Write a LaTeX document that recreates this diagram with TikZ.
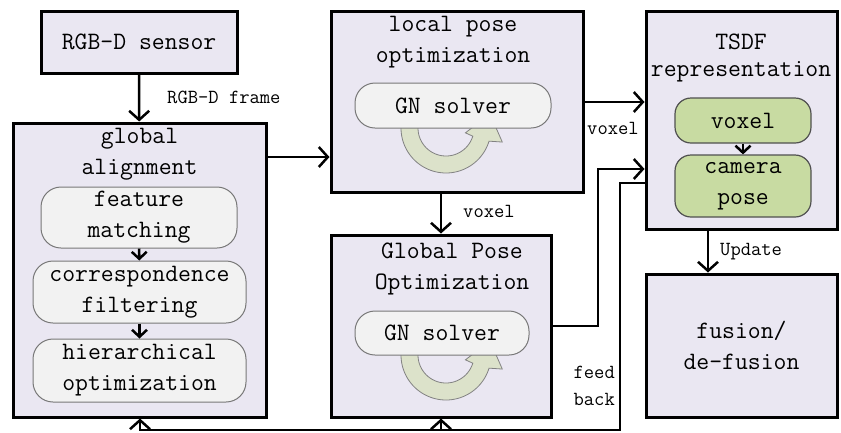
\documentclass[tikz,border=0pt]{standalone}
\usepackage{fontspec}
\usetikzlibrary{arrows.meta,shadows}

\definecolor{boxfill}{RGB}{234,231,242}
\definecolor{subfill}{RGB}{242,242,242}
\definecolor{subedge}{RGB}{120,120,120}
\definecolor{greenfill}{RGB}{200,219,162}
\definecolor{greenedge}{RGB}{80,80,80}
\definecolor{cycfill}{RGB}{220,226,202}
\definecolor{cycedge}{RGB}{130,130,130}

\tikzset{
  x=1pt, y=-1pt,
  mainfont/.style={font=\ttfamily\fontsize{25}{31}\selectfont},
  labelfont/.style={font=\ttfamily\fontsize{20}{27}\selectfont},
  block/.style={draw, line width=3pt, fill=boxfill, inner sep=0pt},
  subbox/.style={draw=subedge, line width=1pt, fill=subfill, rounded corners=20pt,
    mainfont, align=center, inner sep=0pt},
  greenbox/.style={draw=greenedge, line width=1.2pt, fill=greenfill, rounded corners=16pt,
    mainfont, align=center, inner sep=0pt},
  title/.style={mainfont, align=center, inner sep=0pt},
  lbl/.style={labelfont, inner sep=0pt},
  conn/.style={line width=2.5pt},
  arr/.style={conn, -{Straight Barb[length=9pt,width=20pt]}},
  subarr/.style={line width=2.5pt, -{Straight Barb[length=7pt,width=15pt]}},
  % clockwise loop arrow, its head tucked under the solver box
  pics/cyclearrow/.style={code={
    \filldraw[fill=cycfill, draw=cycedge, line width=0.8pt]
      plot[domain=186:17, samples=50] ({45*cos(\x)},{45*sin(\x)})
      -- ({58*cos(14)},{58*sin(14)})
      -- (44,-14)
      -- ({20*cos(14)},{20*sin(14)})
      -- ({28*cos(17)},{28*sin(17)})
      -- plot[domain=17:186, samples=50] ({28*cos(\x)},{28*sin(\x)})
      -- cycle;
  }}
}

\begin{document}
\begin{tikzpicture}
\useasboundingbox (0,0) rectangle (841,432);

% main blocks
\node[block, drop shadow={shadow xshift=2pt, shadow yshift=-2pt, opacity=0.35},
      minimum width=196pt, minimum height=62pt, mainfont] (sensor) at (139,42) {RGB-D sensor};
\node[block, minimum width=253pt, minimum height=294pt] (ga) at (139.5,270) {};
\node[block, minimum width=252pt, minimum height=181pt] (lp) at (457,101.5) {};
\node[block, minimum width=220pt, minimum height=182pt] (gp) at (441,326) {};
\node[block, minimum width=191pt, minimum height=218pt] (tsdf) at (741.5,120) {};
\node[block, minimum width=191pt, minimum height=143pt, mainfont, align=center] (fus) at (741.5,345.5) {fusion/\\de-fusion};

% block titles
\node[title] (gatitle) at (139.5,154) {global\\alignment};
\node[title] (lptitle) at (453,42) {local pose\\optimization};
\node[title] (gptitle) at (452,269) {Global Pose\\Optimization};
\node[title, font=\ttfamily\fontsize{25}{27}\selectfont] (tsdftitle) at (741,58) {TSDF\\representation};

% solver loops (drawn under the solver boxes)
\pic at (446,128) {cyclearrow};
\pic at (446,355) {cyclearrow};

% inner steps
\node[subbox, minimum width=196pt, minimum height=61pt] (fm) at (139,217.5) {feature\\matching};
\node[subbox, minimum width=213pt, minimum height=62pt] (cf) at (139.5,292) {correspondence\\filtering};
\node[subbox, minimum width=213pt, minimum height=63pt] (ho) at (139.5,370.5) {hierarchical\\optimization};
\node[subbox, minimum width=196pt, minimum height=45pt] (lsolv) at (453,105.5) {GN solver};
\node[subbox, minimum width=174pt, minimum height=44pt] (gsolv) at (442,333) {GN solver};
\node[greenbox, minimum width=136pt, minimum height=45pt] (vox) at (743,120.5) {voxel};
\node[greenbox, minimum width=136pt, minimum height=62pt] (cam) at (743,186) {camera\\pose};

% inner arrows
\draw[subarr] (fm) -- (cf);
\draw[subarr] (cf) -- (ho);
\draw[subarr] (vox) -- (cam);

% connectors
\coordinate (gpout) at (598,326);
\coordinate (fbtop) at (620,183);
\coordinate (fbcorner) at (620,430);
\coordinate (fbga) at (140,430);
\coordinate (fbgp) at (441,430);

\draw[arr] (sensor) -- (ga);
\draw[arr] (ga.east |- 0,157) -- (lp.west |- 0,157);
\draw[arr] (gp.north |- lp.south) -- (gp.north);
\draw[arr] (lp.east |- 0,102) -- (tsdf.west |- 0,102);
\draw[arr] (gp.east |- gpout) -- (gpout) -- (gpout |- 0,169) -- (tsdf.west |- 0,169);
\draw[arr] (708,0 |- tsdf.south) -- (708,0 |- fus.north);
\draw[arr, line join=miter] (tsdf.west |- fbtop) -- (fbtop) -- (fbcorner) -- (fbga) -- (fbga |- ga.south);
\draw[arr] (fbgp) -- (gp.south);

% connector labels
\node[lbl, anchor=west] (lframe) at (167,97) {RGB-D frame};
\node[lbl, anchor=west] (lvox1) at (463,211) {voxel};
\node[lbl, anchor=west] (lvox2) at (587,128) {voxel};
\node[lbl, anchor=west] (lupd) at (720,252) {Update};
\node[lbl, anchor=east, align=right] (lfb) at (615,386) {feed\\back};
\end{tikzpicture}
\end{document}
